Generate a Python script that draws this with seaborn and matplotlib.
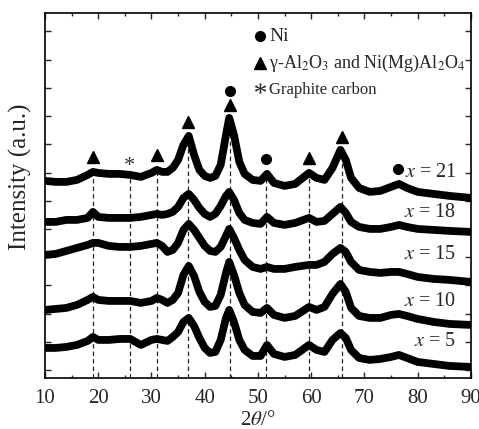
import numpy as np
import pandas as pd
import matplotlib
matplotlib.use("Agg")
import matplotlib.pyplot as plt
from matplotlib.lines import Line2D
from matplotlib.ticker import MultipleLocator, FixedLocator
import seaborn as sns

# ---------------- data (stacked intensity, a.u.) ----------------
two_theta = [10, 12, 14, 16, 18, 19, 20, 22, 24, 26, 28, 30, 31, 32, 33, 34, 35, 36, 37, 38,
             39, 40, 41, 42, 43, 44, 44.6, 45.5, 46.5, 47.5, 49, 50.5, 51.7, 53, 55, 57, 59.6,
             61, 62.5, 64, 65.5, 66.5, 67.5, 69, 71, 73, 75, 76.5, 78, 80, 83, 86, 90]

# positions (smaller = higher); converted to intensity below
pos_x21 = [181, 182, 182, 180, 175, 172, 173, 174, 174, 175, 177, 173, 170, 172, 172, 168, 160, 145, 136, 155,
           170, 176, 178, 176, 165, 135, 118, 135, 162, 174, 180, 181, 174, 183, 186, 184, 173,
           178, 180, 168, 150, 160, 178, 188, 192, 191, 187, 184, 188, 192, 194, 196, 198]
pos_x18 = [222, 222, 220, 220, 218, 212, 217, 218, 218, 218, 217, 215, 214, 215, 214, 212, 207, 198, 194, 200,
           208, 214, 217, 214, 206, 196, 192, 200, 213, 220, 223, 224, 217, 223, 225, 223, 218,
           222, 221, 214, 207, 213, 222, 227, 229, 229, 227, 225, 227, 229, 230, 231, 232]
pos_x15 = [255, 254, 251, 248, 245, 243, 243, 246, 247, 247, 246, 244, 243, 246, 252, 250, 243, 230, 224, 230,
           238, 246, 251, 252, 247, 236, 229, 238, 250, 260, 267, 269, 267, 269, 269, 267, 265,
           265, 262, 254, 248, 252, 262, 270, 272, 273, 272, 272, 274, 277, 279, 280, 282]
pos_x10 = [310, 309, 308, 305, 300, 297, 300, 301, 301, 301, 303, 301, 298, 300, 303, 300, 293, 275, 266, 276,
           292, 302, 307, 306, 295, 273, 262, 275, 293, 305, 312, 313, 308, 315, 318, 316, 307,
           310, 307, 294, 284, 292, 308, 316, 318, 318, 315, 314, 316, 319, 322, 324, 325]
pos_x5 = [348, 348, 347, 345, 341, 337, 340, 340, 339, 339, 345, 340, 339, 340, 341, 337, 332, 322, 318, 326,
          338, 348, 353, 352, 340, 318, 310, 322, 340, 350, 356, 356, 345, 354, 357, 355, 345,
          350, 352, 340, 333, 338, 350, 358, 360, 359, 357, 355, 358, 362, 364, 366, 367]

samples = ["x = 21", "x = 18", "x = 15", "x = 10", "x = 5"]
sample_labels = [r"$x$ = 21", r"$x$ = 18", r"$x$ = 15", r"$x$ = 10", r"$x$ = 5"]
sample_label_pos = [173, 213, 255, 302, 342]

# reflection positions (2theta)
al_spinel_peaks = [19.0, 31.1, 36.9, 44.7, 59.6, 65.7]
ni_peaks = [44.7, 51.6, 76.3]
graphite_peaks = [25.9]
dashed_peaks = [19.0, 25.9, 31.1, 36.9, 44.7, 51.6, 59.6, 65.7]

REF = 370.0
def to_int(p):
    return [REF - v for v in p]

curves = [pos_x21, pos_x18, pos_x15, pos_x10, pos_x5]
frames = []
for name, c in zip(samples, curves):
    frames.append(pd.DataFrame({"two_theta": two_theta, "intensity": to_int(c), "sample": name}))
df = pd.concat(frames, ignore_index=True)

# ---------------- style ----------------
sns.set_theme(style="ticks")
plt.rcParams["font.family"] = ["Liberation Serif", "DejaVu Serif"]
plt.rcParams["mathtext.fontset"] = "stix"

fig = plt.figure(figsize=(4.79, 4.29), dpi=100)
ax = fig.add_axes([0.094, 0.119, 0.889, 0.851])

sns.lineplot(data=df, x="two_theta", y="intensity", hue="sample", hue_order=samples,
             palette=["black"] * 5, legend=False, linewidth=5.6, ax=ax, sort=True,
             estimator=None)

ymin, ymax = -8, 357
top = np.array(to_int(pos_x21))
for p in dashed_peaks:
    yt = np.interp(p, two_theta, top)
    ax.vlines(p, ymin, yt, colors="#222222", linestyles=(0, (3.5, 2.5)), linewidth=0.9, zorder=1)

gap = 15
for p in al_spinel_peaks:
    yt = np.interp(p, two_theta, top)
    ax.plot([p], [yt + gap], marker="^", color="black", markersize=8, linestyle="none")
for p in ni_peaks:
    yt = np.interp(p, two_theta, top)
    extra = 14 if p in al_spinel_peaks else 0
    ax.plot([p], [yt + gap + extra], marker="o", color="black", markersize=7, linestyle="none")
for p in graphite_peaks:
    yt = np.interp(p, two_theta, top)
    ax.text(p, yt + gap - 7, "*", ha="center", va="center", fontsize=16, color="#333333")

for lab, yp in zip(sample_labels, sample_label_pos):
    ax.text(87.3, REF - yp, lab, ha="right", va="center", fontsize=14.5)

ax.set_xlim(10, 90)
ax.set_ylim(ymin, ymax)
ax.xaxis.set_major_locator(MultipleLocator(10))
ax.xaxis.set_minor_locator(MultipleLocator(5))
ax.yaxis.set_major_locator(FixedLocator(np.arange(0, 350, 28.2)))
ax.set_yticklabels([])
ax.tick_params(axis="both", which="both", direction="in", top=True, right=True, width=1.0)
ax.tick_params(axis="both", which="major", length=4)
ax.tick_params(axis="x", which="minor", length=2.5)
ax.tick_params(axis="x", labelsize=15, pad=8)
for s in ax.spines.values():
    s.set_linewidth(1.2)
    s.set_color("black")

ax.set_xlabel(r"2$\theta$/°", fontsize=15, labelpad=2)
ax.set_ylabel("Intensity (a.u.)", fontsize=18)
ax.yaxis.set_label_coords(-0.03, 0.55)

handles = [
    Line2D([], [], marker="o", color="black", linestyle="none", markersize=7),
    Line2D([], [], marker="^", color="black", linestyle="none", markersize=8),
    Line2D([], [], marker=r"$\mathregular{*}$", color="#222222", linestyle="none",
           markersize=8, markeredgewidth=0),
]
labels = ["Ni", r"γ-Al$_2$O$_3$ and Ni(Mg)Al$_2$O$_4$", "Graphite carbon"]
leg = fig.legend(handles, labels, loc="upper left", bbox_to_anchor=(0.52, 0.948), frameon=False,
                 handlelength=0.6, handletextpad=0.3, labelspacing=0.5, borderaxespad=0)
for t, fs in zip(leg.get_texts(), [14, 13, 12]):
    t.set_fontsize(fs)

fig.savefig("out.png", dpi=100)
